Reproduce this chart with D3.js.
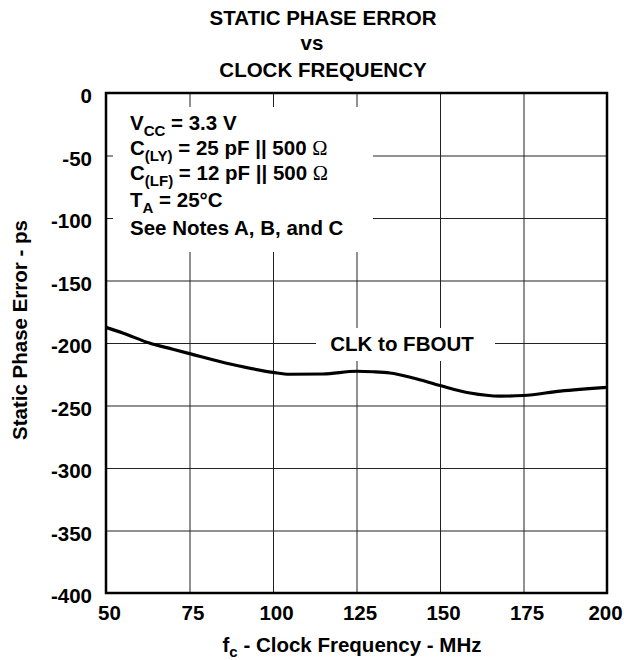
<!DOCTYPE html>
<html>
<head>
<meta charset="utf-8">
<script src="https://cdn.jsdelivr.net/npm/d3@7/dist/d3.min.js"></script>
<style>
  body { margin: 0; background: #fff; }
  text { font-family: "Liberation Sans", Arial, Helvetica, sans-serif; font-weight: bold; fill: #000; }
</style>
</head>
<body>
<div id="chart-area"></div>
<script>
// values
var freq = [50, 55, 63, 70, 75, 87.5, 100, 105, 115, 125, 130, 135, 142, 150, 159, 168, 175, 186, 200];
var phaseError = [-187.5, -192, -200, -205, -208.5, -217, -223.5, -225, -224.8, -222.6, -223, -224, -228, -234, -240, -242.5, -242, -238.5, -235.5];
var xTicks = [50, 75, 100, 125, 150, 175, 200];
var yTicks = [0, -50, -100, -150, -200, -250, -300, -350, -400];
var titleLines = ["STATIC PHASE ERROR", "vs", "CLOCK FREQUENCY"];
var seriesLabel = "CLK to FBOUT";
// [main, subscript, rest, symbol]
var notes = [
  ["V", "CC", " = 3.3 V", ""],
  ["C", "(LY)", " = 25 pF || 500 ", "\u03A9"],
  ["C", "(LF)", " = 12 pF || 500 ", "\u03A9"],
  ["T", "A", " = 25\u00B0C", ""],
  ["See Notes A, B, and C", "", "", ""]
];

document.addEventListener("DOMContentLoaded", function (event) {

  var margin = { left: 106, right: 17, top: 93, bottom: 67 };
  var width = 624 - margin.left - margin.right,
      height = 660 - margin.top - margin.bottom;
  var fs = 20.5;

  var svg = d3.select("#chart-area")
      .append("svg")
          .attr("width", 624)
          .attr("height", 660);

  var g = svg.append("g")
      .attr("transform", "translate(" + margin.left + ", " + margin.top + ")");

  var x = d3.scaleLinear()
      .domain([50, 200])
      .range([0, width]);

  var y = d3.scaleLinear()
      .domain([-400, 0])
      .range([height, 0]);

  // grid
  var xGrid = d3.axisBottom(x).tickValues(xTicks).tickSize(-height).tickFormat("");
  var yGrid = d3.axisLeft(y).tickValues(yTicks).tickSize(-width).tickFormat("");

  g.append("g")
      .attr("class", "x-grid")
      .attr("transform", "translate(0, " + height + ")")
      .call(xGrid);
  g.append("g")
      .attr("class", "y-grid")
      .call(yGrid);
  g.selectAll(".x-grid path, .y-grid path").remove();
  g.selectAll(".x-grid line, .y-grid line").attr("stroke", "#222").attr("stroke-width", 1);

  // white boxes behind the texts break the grid
  g.append("rect")
      .attr("x", 7).attr("y", 14)
      .attr("width", 260).attr("height", 145)
      .attr("fill", "#fff");
  g.append("rect")
      .attr("x", 210).attr("y", 235)
      .attr("width", 179).attr("height", 33)
      .attr("fill", "#fff");

  // frame
  g.append("rect")
      .attr("width", width)
      .attr("height", height)
      .attr("fill", "none")
      .attr("stroke", "#000")
      .attr("stroke-width", 2.5);

  // curve
  var line = d3.line()
      .x(function (d, i) { return x(freq[i]); })
      .y(function (d) { return y(d); })
      .curve(d3.curveMonotoneX);

  g.append("path")
      .datum(phaseError)
      .attr("d", line)
      .attr("fill", "none")
      .attr("stroke", "#000")
      .attr("stroke-width", 3.2);

  // tick labels, plain hyphen as minus like the datasheet
  var fmt = function (d) { return String(d); };
  var xAxis = d3.axisBottom(x).tickValues(xTicks).tickSize(0).tickPadding(12).tickFormat(fmt);
  var yAxis = d3.axisLeft(y).tickValues(yTicks).tickSize(0).tickPadding(14).tickFormat(fmt);

  var xa = g.append("g")
      .attr("class", "x-axis")
      .attr("transform", "translate(0, " + height + ")")
      .call(xAxis);
  var ya = g.append("g")
      .attr("class", "y-axis")
      .call(yAxis);
  xa.select(".domain").remove();
  ya.select(".domain").remove();
  xa.selectAll("text").attr("font-size", fs).attr("font-family", null)
      .attr("dx", function (d, i) { return i == xTicks.length - 1 ? -2 : 3; });
  ya.selectAll("text").attr("font-size", fs).attr("font-family", null).attr("dy", "0.32em")
      .attr("y", 3);

  // title
  svg.selectAll(".title")
      .data(titleLines)
      .enter().append("text")
      .attr("class", "title")
      .attr("x", function (d, i) { return i == 1 ? 312 : 323; })
      .attr("y", function (d, i) { return [25, 50, 77][i]; })
      .attr("text-anchor", "middle")
      .attr("font-size", fs)
      .text(function (d) { return d; });

  // notes
  var noteY = [130, 155, 180, 207, 235];
  notes.forEach(function (n, i) {
    var t = svg.append("text")
        .attr("x", 130)
        .attr("y", noteY[i])
        .attr("font-size", fs);
    t.append("tspan").text(n[0]);
    if (n[1]) {
      t.append("tspan").attr("font-size", 15).attr("dy", 5.5).text(n[1]);
      t.append("tspan").attr("dy", -5.5).text(n[2]);
    }
    if (n[3]) {
      t.append("tspan")
          .attr("font-family", "'Liberation Serif', 'DejaVu Serif', serif")
          .attr("font-weight", "normal")
          .text(n[3]);
    }
  });

  // series label
  svg.append("text")
      .attr("x", 402)
      .attr("y", 351)
      .attr("text-anchor", "middle")
      .attr("font-size", fs)
      .text(seriesLabel);

  // axis titles
  var xt = svg.append("text")
      .attr("x", 352)
      .attr("y", 652)
      .attr("text-anchor", "middle")
      .attr("font-size", fs);
  xt.append("tspan").text("f");
  xt.append("tspan").attr("font-size", 15).attr("dy", 5).text("c");
  xt.append("tspan").attr("dy", -5).text(" - Clock Frequency - MHz");

  svg.append("text")
      .attr("transform", "translate(27, 330) rotate(-90)")
      .attr("text-anchor", "middle")
      .attr("font-size", fs)
      .text("Static Phase Error - ps");
});
</script>
</body>
</html>
